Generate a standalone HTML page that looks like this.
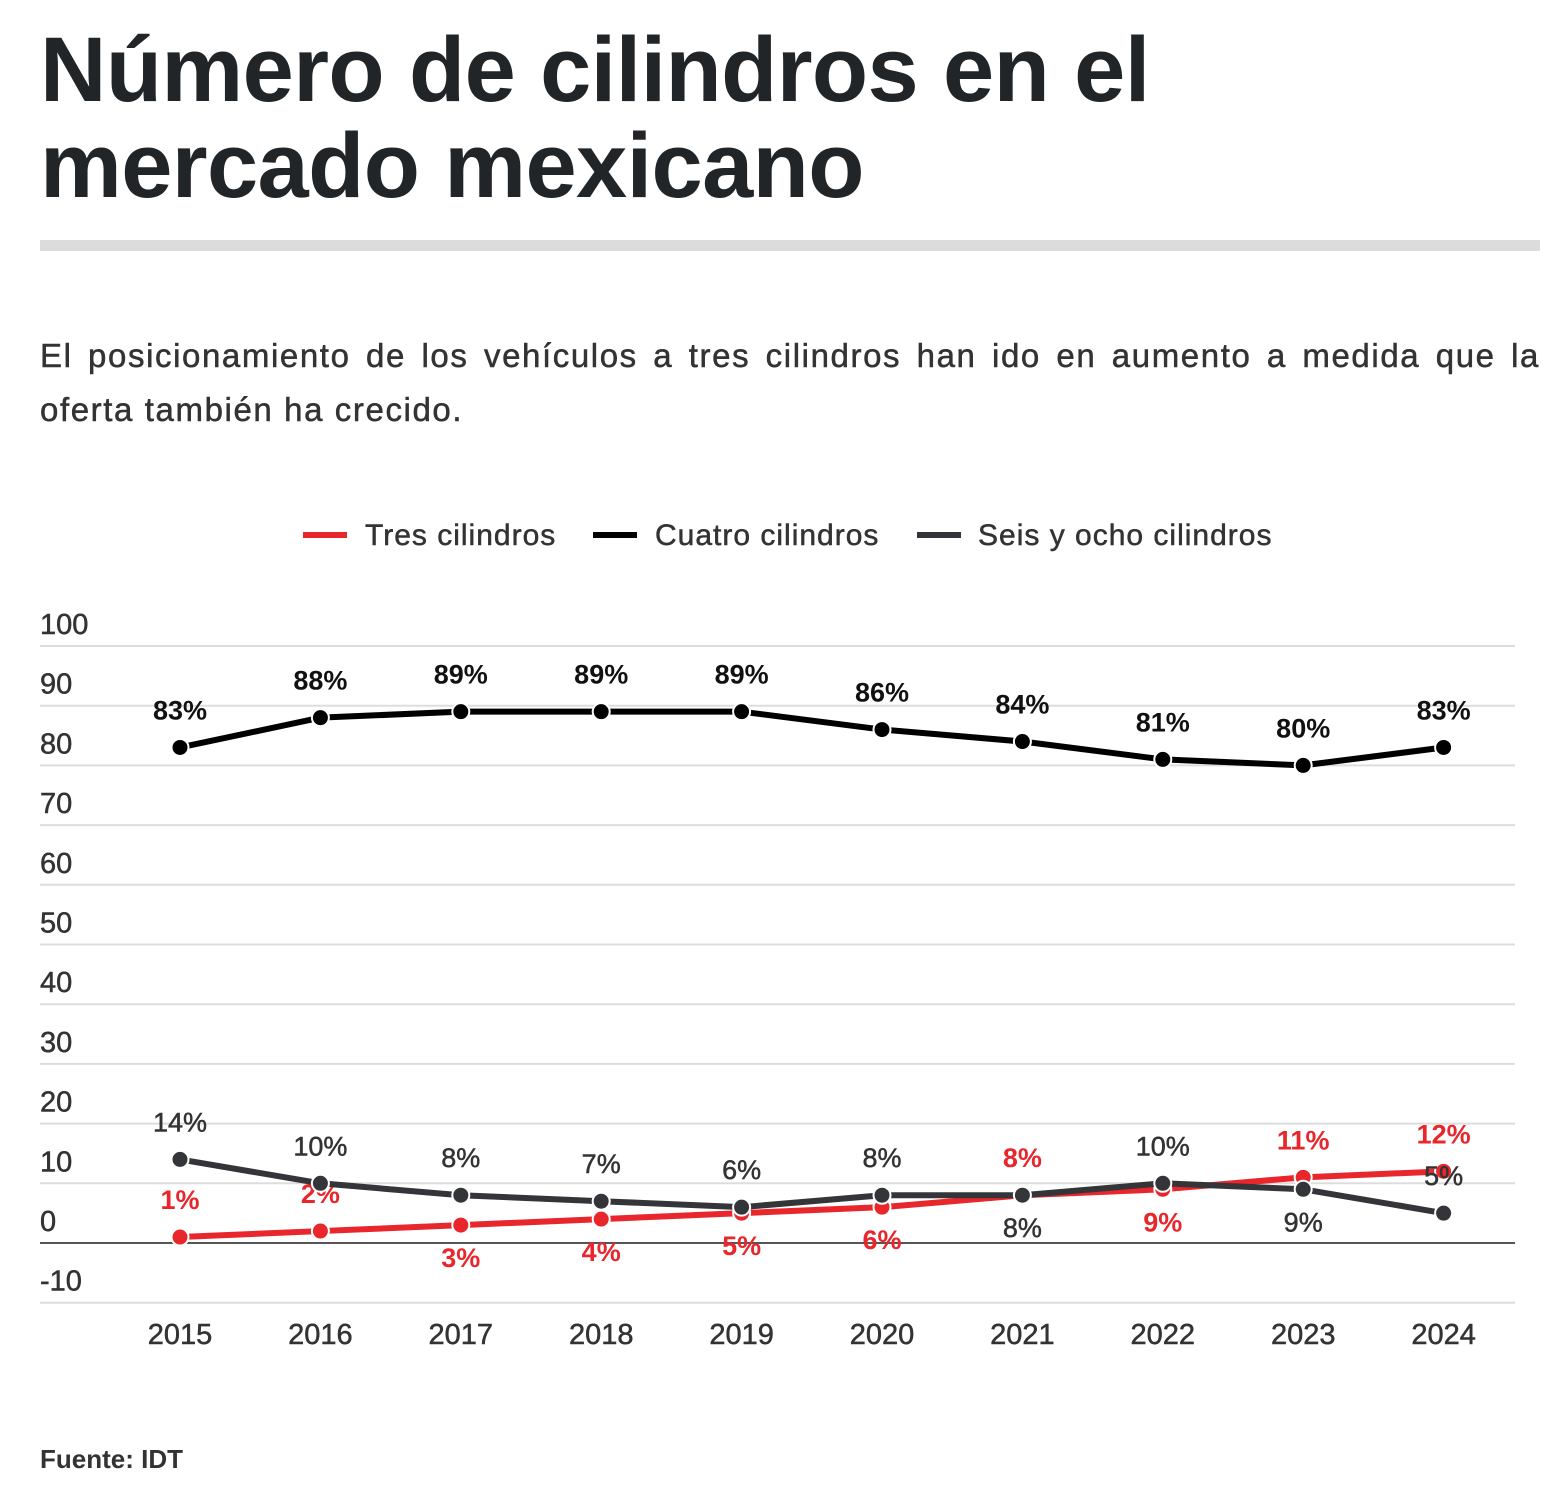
<!DOCTYPE html>
<html><head><meta charset="utf-8">
<style>
html,body{margin:0;padding:0;background:#fff;width:1558px;height:1509px;overflow:hidden;font-family:"Liberation Sans",sans-serif;color:#25282b}
h1{position:absolute;left:40px;top:22px;margin:0;font-size:92px;line-height:96px;font-weight:bold;letter-spacing:-0.6px;color:#222528}
#bar{position:absolute;left:40px;top:240px;width:1500px;height:11px;background:#dcdcdc}
#sub{position:absolute;left:40px;top:329px;width:1500px;font-size:33px;line-height:54px;letter-spacing:1.6px;color:#333;-webkit-text-stroke:0.5px #333}
#sub .l1{text-align:justify;text-align-last:justify;white-space:nowrap}
svg{position:absolute;left:0;top:0}
#src{position:absolute;left:40px;top:1444px;font-size:26px;font-weight:bold;color:#333}
</style></head><body>
<h1>Número de cilindros en el<br>mercado mexicano</h1>
<div id="bar"></div>
<div id="sub"><div class="l1">El posicionamiento de los vehículos a tres cilindros han ido en aumento a medida que la</div><div>oferta también ha crecido.</div></div>
<svg id="chart" width="1558" height="1509"></svg>
<div id="src">Fuente: IDT</div>
<script>
const years=["2015","2016","2017","2018","2019","2020","2021","2022","2023","2024"];
const tres=[1,2,3,4,5,6,8,9,11,12];
const cuatro=[83,88,89,89,89,86,84,81,80,83];
const seis=[14,10,8,7,6,8,8,10,9,5];
const yTicks=[-10,0,10,20,30,40,50,60,70,80,90,100];
const tresPos=[1,1,-1,-1,-1,-1,1,-1,1,1];
const seisPos=[1,1,1,1,1,1,-1,1,-1,1];
const NS="http://www.w3.org/2000/svg";
const svg=document.getElementById('chart');
const x=i=>180+i*140.4;
const y=v=>1243-v*5.97;
function el(t,a,txt){const e=document.createElementNS(NS,t);for(const k in a)e.setAttribute(k,a[k]);if(txt!=null)e.textContent=txt;svg.appendChild(e);return e;}
yTicks.forEach(v=>{
 const l=el('line',{x1:40,x2:1515,y1:y(v),y2:y(v),stroke:v===0?'#555':'#ddd','stroke-width':2});
 
 
 const t=el('text',{x:40,y:y(v)-12,'font-size':29,fill:'#333',stroke:'#333','stroke-width':0.5},String(v));
 
 
});
years.forEach((yr,i)=>{
 const t=el('text',{x:x(i),y:1344,'font-size':29,fill:'#333',stroke:'#333','stroke-width':0.5,'text-anchor':'middle'},yr);
 
 
});
function series(data,color,name,pos,lblColor){
 const p=el('polyline',{points:data.map((v,i)=>x(i)+','+y(v)).join(' '),fill:'none',stroke:color,'stroke-width':6,'stroke-linejoin':'round'});
 
 
 data.forEach((v,i)=>{
  const c=el('circle',{cx:x(i),cy:y(v),r:8.5,fill:color,stroke:'#fff','stroke-width':2});
  
  
  const up=pos?pos[i]>0:true;
  const t=el('text',{x:x(i),y:up?y(v)-28:y(v)+42,'font-size':27,fill:lblColor,'text-anchor':'middle','font-weight':name==='seis'?'normal':'bold'},v+'%');
  if(name==='seis'){t.setAttribute('stroke','#333');t.setAttribute('stroke-width','0.5');}
  
  
 });
}
series(tres,'#e8262b','tres',tresPos,'#e8262b');
series(seis,'#333538','seis',seisPos,'#333');
series(cuatro,'#000','cuatro',null,'#111');
const leg=[['Tres cilindros','#e8262b',303,365],['Cuatro cilindros','#000',593,655],['Seis y ocho cilindros','#333538',917,978]];
leg.forEach(d=>{
 const l=el('line',{x1:d[2],x2:d[2]+44,y1:535,y2:535,stroke:d[1],'stroke-width':6});
 
 
 const t=el('text',{x:d[3],y:545,'font-size':30,fill:'#333',stroke:'#333','stroke-width':0.5,'letter-spacing':1},d[0]);
 
 
});
</script>
</body></html>
